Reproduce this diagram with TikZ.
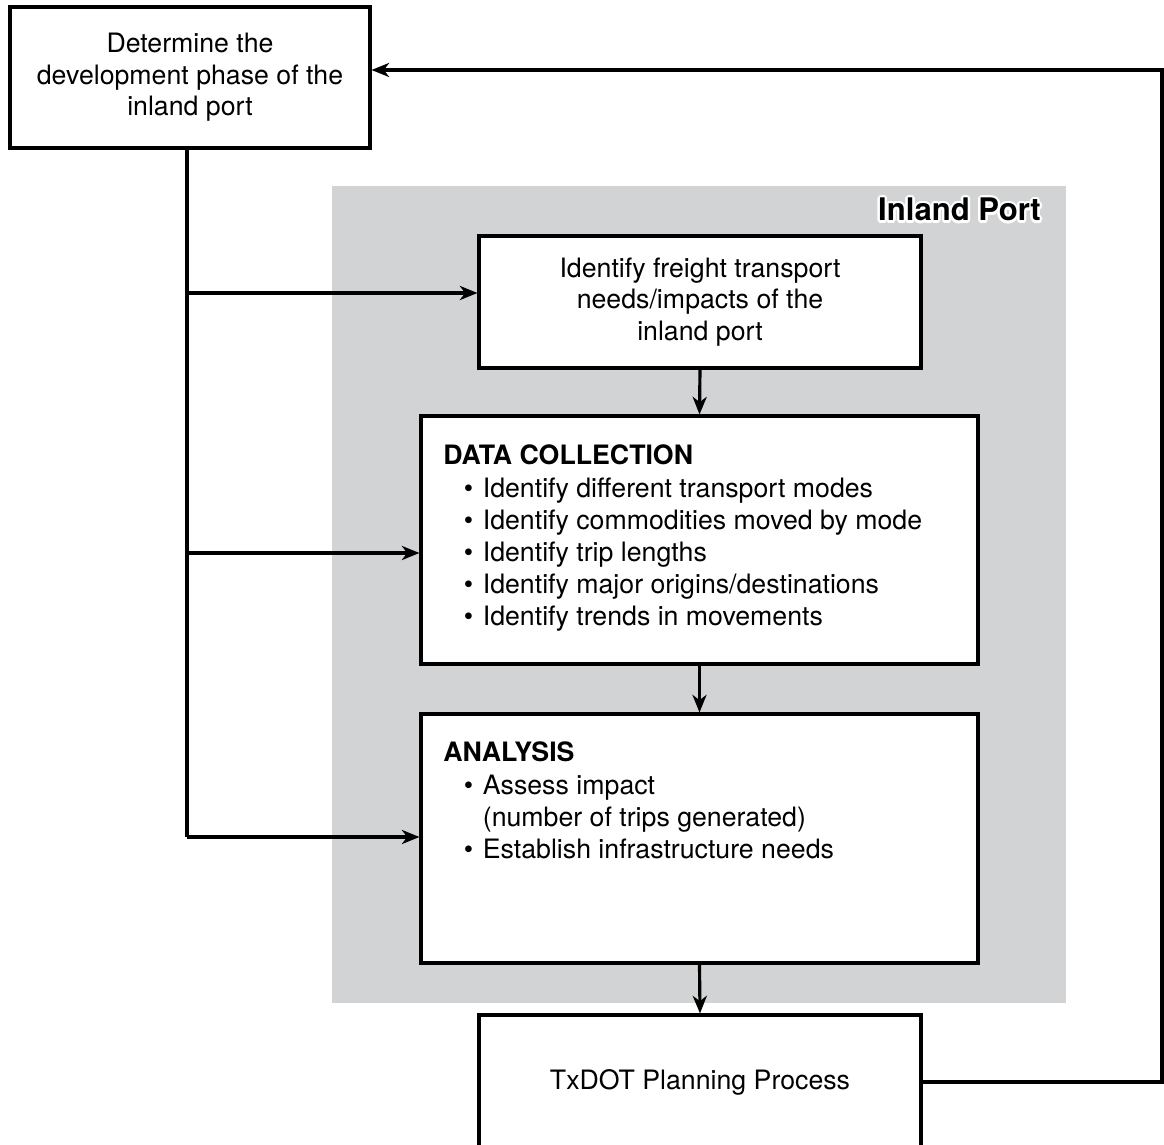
\documentclass[tikz,border=0pt]{standalone}
\usepackage{fontspec}
\setmainfont{TeX Gyre Heros}
\usepackage{contour}
\usetikzlibrary{arrows.meta,positioning,calc}
\definecolor{portgray}{RGB}{209,211,212}
\contourlength{1.4pt}

\newcommand{\portitem}{\makebox[22.5pt][r]{\textbullet\hspace{5.5pt}}}
\newcommand{\portindent}{\makebox[22.5pt]{}}

\tikzset{
  box/.style={draw, line width=1.8pt, fill=white, align=center, inner sep=0pt,
    font=\fontsize{15.2}{18}\selectfont},
  list/.style={anchor=north west, align=left, inner sep=0pt,
    font=\fontsize{15.2}{18.2}\selectfont},
  link/.style={line width=1.8pt, -{Stealth[length=10pt,width=8pt,inset=3pt]}},
  wire/.style={line width=1.8pt}
}

\begin{document}
\begin{tikzpicture}[x=0.02cm, y=-0.02cm]
  \useasboundingbox (0,0) rectangle (1164,1145);
  \clip (0,0) rectangle (1164,1145);

  % shaded area of the inland port
  \fill[portgray] (332,186) rectangle (1066,1003);
  \node[anchor=east, font=\fontsize{17.7}{20}\selectfont\bfseries] (portlabel) at (1047,211)
    {\contour{white}{Inland Port}};

  % Boxes
  \node[box, minimum width=7.2cm, minimum height=2.82cm] (phase) at (190,77.5)
    {Determine the\\development phase of the\\inland port};
  \node[box, minimum width=8.84cm, minimum height=2.64cm] (freight) at (700,302)
    {Identify freight transport\\needs/impacts of the\\inland port};
  \node[box, minimum width=11.14cm, minimum height=4.96cm] (datacoll) at (699.5,540) {};
  \node[box, minimum width=11.14cm, minimum height=4.98cm] (analysis) at (699.5,838.5) {};
  \node[box, minimum width=8.84cm, minimum height=2.68cm] (txdot) at (700,1082)
    {TxDOT Planning Process};

  % Box contents
  \node[list] (datatext) at (443,444) {\textbf{DATA COLLECTION}\\[1pt]
    \portitem Identify different transport modes\\
    \portitem Identify commodities moved by mode\\
    \portitem Identify trip lengths\\
    \portitem Identify major origins/destinations\\
    \portitem Identify trends in movements};
  \node[list] (analysistext) at (443,741) {\textbf{ANALYSIS}\\[1pt]
    \portitem Assess impact\\
    \portindent (number of trips generated)\\
    \portitem Establish infrastructure needs};

  % Downward flow
  \draw[link] (freight.south) -- (datacoll.north);
  \draw[link] (datacoll.south) -- (analysis.north);
  \draw[link] (analysis.south) -- (txdot.north);

  % Branches from the phase box
  \coordinate (split1) at (187,293);
  \coordinate (split2) at (187,553);
  \coordinate (split3) at (187,837);
  \draw[wire] (phase.south -| split1) -- (split3);
  \draw[link] (split1) -- (split1 -| freight.west);
  \draw[link] (split2) -- (split2 -| datacoll.west);
  \draw[link] (split3) -- (split3 -| analysis.west);

  % Feedback loop
  \coordinate (loop) at (1162,70);
  \draw[link] (txdot.east) -| (loop) -- (loop -| phase.east);
\end{tikzpicture}
\end{document}
